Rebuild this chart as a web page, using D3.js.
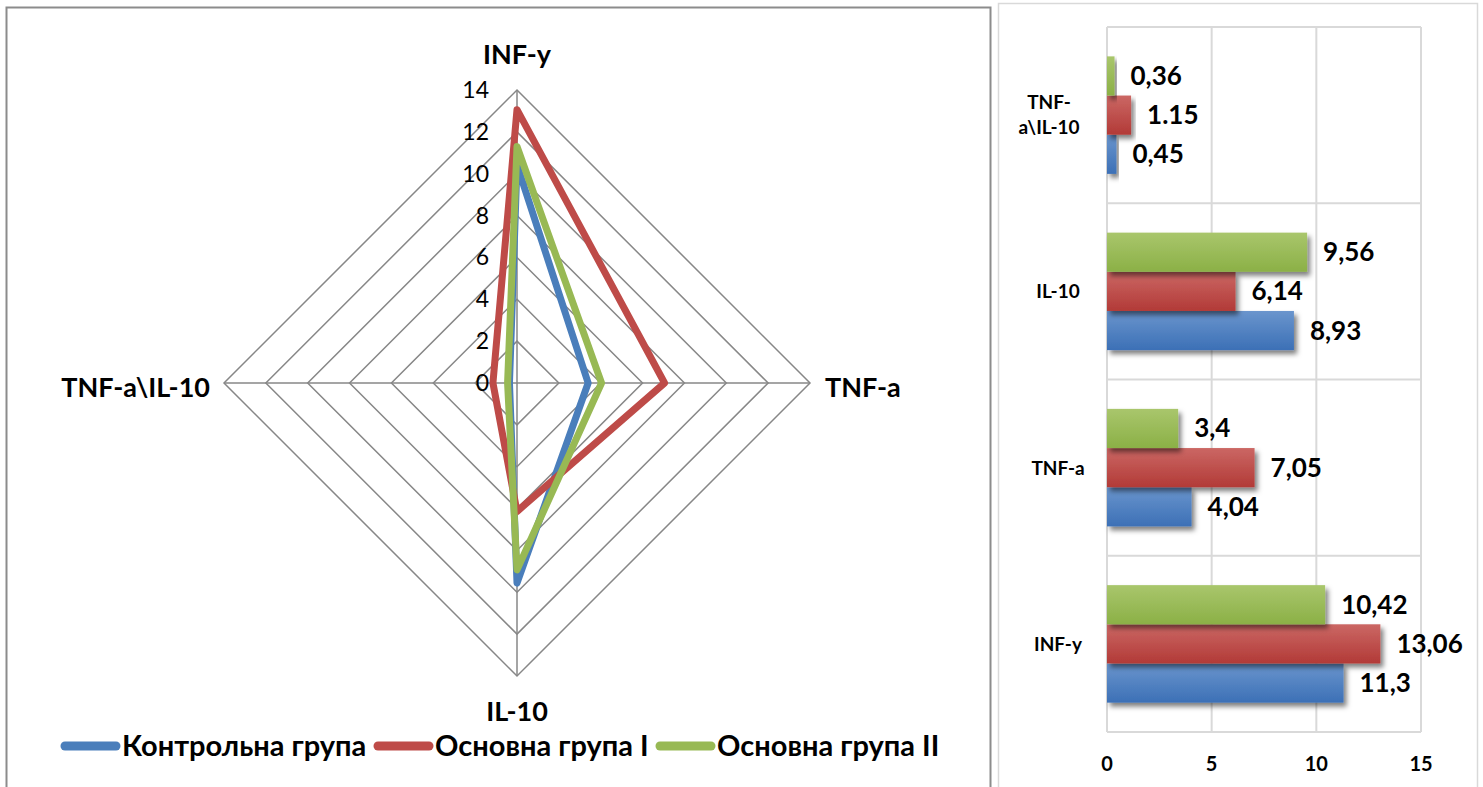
<!DOCTYPE html>
<html><head><meta charset="utf-8">
<script src="https://cdn.jsdelivr.net/npm/d3@7"></script>
<style>
body{margin:0;background:#fff}
svg{display:block}
text{font-family:Lato,'Noto Sans',sans-serif;fill:#000}
</style>
</head><body>
<svg id="chart" width="1483" height="787"></svg>
<script>
// ---- data ----
const seriesNames = ["Контрольна група", "Основна група I", "Основна група II"];
const seriesColors = ["#4A7EBB", "#BE4B48", "#98B954"];

// radar (left panel)
const radarAxes = ["INF-y", "TNF-a", "IL-10", "TNF-a\\IL-10"];
const radarControl = [10.42, 3.4, 9.56, 0.36];
const radarGroup1 = [13.06, 7.05, 6.14, 1.15];
const radarGroup2 = [11.3, 4.04, 8.93, 0.45];
const radarTicks = [0, 2, 4, 6, 8, 10, 12, 14];

// horizontal bars (right panel)
const barCategories = ["INF-y", "TNF-a", "IL-10", "TNF-a\\IL-10"];
const barControl = [11.3, 4.04, 8.93, 0.45];
const barGroup1 = [13.06, 7.05, 6.14, 1.15];
const barGroup2 = [10.42, 3.4, 9.56, 0.36];
const labelsControl = ["11,3", "4,04", "8,93", "0,45"];
const labelsGroup1 = ["13,06", "7,05", "6,14", "1.15"];
const labelsGroup2 = ["10,42", "3,4", "9,56", "0,36"];
const barTicks = [0, 5, 10, 15];

const svg = d3.select("#chart");
const defs = svg.append("defs");

// ---- panel frames ----
svg.append("path").attr("d", "M6.5,790 V7.5 H990.5 V790")
  .attr("fill", "none").attr("stroke", "#8c8c8c").attr("stroke-width", 2);
svg.append("path").attr("d", "M998.5,790 V3.5 H1477.5 V790")
  .attr("fill", "none").attr("stroke", "#d9d9d9").attr("stroke-width", 1.5);

// ---- radar chart ----
const cx = 517, cy = 383;
const r = d3.scaleLinear().domain([0, 14]).range([0, 293]);
const angle = i => i * Math.PI / 2;
const radarG = svg.append("g").attr("transform", `translate(${cx},${cy})`);

const ring = d3.lineRadial().angle((d, i) => angle(i)).radius(d => r(d)).curve(d3.curveLinearClosed);
radarG.selectAll("path.ring").data(radarTicks.slice(1)).join("path")
  .attr("class", "ring")
  .attr("d", t => ring(radarAxes.map(() => t)))
  .attr("fill", "none").attr("stroke", "#878787").attr("stroke-width", 1.5);

radarG.selectAll("line.spoke").data(radarAxes).join("line")
  .attr("class", "spoke")
  .attr("x1", 0).attr("y1", 0)
  .attr("x2", (d, i) => r(14) * Math.sin(angle(i)))
  .attr("y2", (d, i) => -r(14) * Math.cos(angle(i)))
  .attr("stroke", "#878787").attr("stroke-width", 1.5);

radarG.selectAll("text.tick").data(radarTicks).join("text")
  .attr("class", "tick")
  .attr("x", -28).attr("y", d => -r(d) + 8)
  .attr("text-anchor", "end")
  .style("font-size", "23px")
  .text(d => d);

const radarSeries = [radarControl, radarGroup1, radarGroup2];
radarG.selectAll("path.series").data(radarSeries).join("path")
  .attr("class", "series")
  .attr("d", vals => ring(vals))
  .attr("fill", "none")
  .attr("stroke", (d, i) => seriesColors[i])
  .attr("stroke-width", 7)
  .attr("stroke-linejoin", "round");

// axis titles
const axisTitleStyle = s => s.style("font-size", "27px").style("font-weight", "bold");
radarG.append("text").attr("x", 0).attr("y", -319).attr("text-anchor", "middle").call(axisTitleStyle).text(radarAxes[0]);
radarG.append("text").attr("x", 308).attr("y", 14).attr("text-anchor", "start").call(axisTitleStyle).text(radarAxes[1]);
radarG.append("text").attr("x", 0).attr("y", 338).attr("text-anchor", "middle").call(axisTitleStyle).text(radarAxes[2]);
radarG.append("text").attr("x", -307).attr("y", 14).attr("text-anchor", "end").call(axisTitleStyle).text(radarAxes[3]);

// legend
const legendX = [61, 374, 656];
const legend = svg.append("g");
seriesNames.forEach((name, i) => {
  legend.append("line")
    .attr("x1", legendX[i] + 4).attr("x2", legendX[i] + 55)
    .attr("y1", 746).attr("y2", 746)
    .attr("stroke", seriesColors[i]).attr("stroke-width", 9).attr("stroke-linecap", "round");
  legend.append("text")
    .attr("x", legendX[i] + 61).attr("y", 756)
    .style("font-size", "29px").style("font-weight", "bold")
    .text(name);
});

// ---- bar chart ----
const x = d3.scaleLinear().domain([0, 15]).range([1107, 1421]);
const y = d3.scaleBand().domain(barCategories.slice().reverse()).range([27, 732]);
const inner = d3.scaleBand().domain([2, 1, 0]).range([0, y.bandwidth()])
  .paddingInner(0).paddingOuter(0.75);

// gradients
const grads = [["#6a95cd", "#3c70b6"], ["#cb6764", "#b23a37"], ["#a9c66c", "#8bb046"]];
grads.forEach((g, i) => {
  const lg = defs.append("linearGradient").attr("id", "grad" + i)
    .attr("x1", 0).attr("y1", 0).attr("x2", 0).attr("y2", 1);
  lg.append("stop").attr("offset", "0%").attr("stop-color", g[0]);
  lg.append("stop").attr("offset", "100%").attr("stop-color", g[1]);
});
const shadow = defs.append("filter").attr("id", "shadow")
  .attr("x", "-10%").attr("y", "-20%").attr("width", "130%").attr("height", "160%");
shadow.append("feDropShadow").attr("dx", 3).attr("dy", 4).attr("stdDeviation", 2.5)
  .attr("flood-color", "#000").attr("flood-opacity", 0.5);

// gridlines and plot frame
const barG = svg.append("g");
barG.selectAll("line.vgrid").data(barTicks).join("line")
  .attr("class", "vgrid")
  .attr("x1", d => x(d)).attr("x2", d => x(d))
  .attr("y1", 27).attr("y2", 732)
  .attr("stroke", "#d9d9d9").attr("stroke-width", 2);
const bounds = [27].concat(y.domain().map(c => y(c) + y.bandwidth()));
barG.selectAll("line.hgrid").data(bounds).join("line")
  .attr("class", "hgrid")
  .attr("x1", x(0)).attr("x2", x(15))
  .attr("y1", d => d).attr("y2", d => d)
  .attr("stroke", "#d9d9d9").attr("stroke-width", 2);

const barSeries = [barControl, barGroup1, barGroup2];
const barLabels = [labelsControl, labelsGroup1, labelsGroup2];
barSeries.forEach((vals, s) => {
  barG.selectAll("rect.s" + s).data(vals).join("rect")
    .attr("class", "s" + s)
    .attr("x", x(0))
    .attr("y", (d, i) => y(barCategories[i]) + inner(s))
    .attr("width", d => x(d) - x(0))
    .attr("height", inner.bandwidth())
    .attr("fill", `url(#grad${s})`)
    .attr("filter", "url(#shadow)");
});
barSeries.forEach((vals, s) => {
  barG.selectAll("text.l" + s).data(vals).join("text")
    .attr("class", "l" + s)
    .attr("x", d => x(d) + 16)
    .attr("y", (d, i) => y(barCategories[i]) + inner(s) + inner.bandwidth() / 2 + 9)
    .style("font-size", "26px").style("font-weight", "bold")
    .text((d, i) => barLabels[s][i]);
});

// category labels
barCategories.forEach(c => {
  const mid = y(c) + y.bandwidth() / 2;
  const t = barG.append("text").attr("text-anchor", "middle")
    .style("font-size", "19px").style("font-weight", "bold");
  if (c.includes("\\")) {
    const parts = [c.slice(0, 4), c.slice(4)];
    t.attr("x", 1049);
    t.append("tspan").attr("x", 1049).attr("y", mid - 6).text(parts[0]);
    t.append("tspan").attr("x", 1049).attr("y", mid + 19).text(parts[1]);
  } else {
    t.attr("x", 1058).attr("y", mid + 7).text(c);
  }
});

// x axis tick labels
barG.selectAll("text.xt").data(barTicks).join("text")
  .attr("class", "xt")
  .attr("x", d => x(d)).attr("y", 771)
  .attr("text-anchor", "middle")
  .style("font-size", "20px").style("font-weight", "bold")
  .text(d => d);
</script>
</body></html>
